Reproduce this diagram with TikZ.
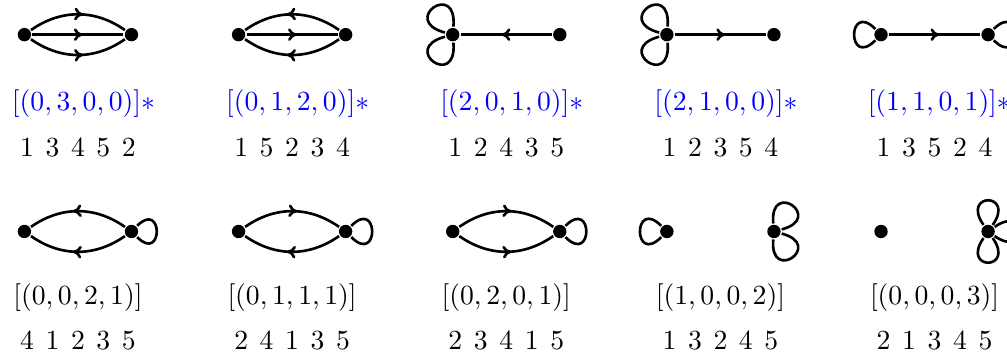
\documentclass[tikz,border=0pt]{standalone}
\usepackage{amsmath}
\usetikzlibrary{arrows.meta,decorations.markings}

\begin{document}
\begin{tikzpicture}[line width=0.95pt,
  vtx/.style={circle,fill=black,inner sep=0pt,minimum size=1.7mm},
  midarrow/.style={postaction={decorate},decoration={markings,mark=at position 0.55 with {\arrow{To[length=1.1mm,width=1.6mm]}}}},
  lbl/.style={inner sep=1pt},
  perm/.style={inner sep=1pt,font={\spaceskip=4.2pt\relax}}]
\useasboundingbox (0,0) rectangle (12.79,4.52);
% first row
\node[vtx] (a11) at (0.31,4.08) {};
\node[vtx] (b11) at (1.67,4.08) {};
\draw[midarrow] (a11) to[bend left=35] (b11);
\draw[midarrow] (a11) -- (b11);
\draw[midarrow] (a11) to[bend right=35] (b11);
\node[vtx] (a12) at (3.03,4.08) {};
\node[vtx] (b12) at (4.39,4.08) {};
\draw[midarrow] (b12) to[bend right=35] (a12);
\draw[midarrow] (a12) -- (b12);
\draw[midarrow] (b12) to[bend left=35] (a12);
\node[vtx] (a13) at (5.75,4.08) {};
\node[vtx] (b13) at (7.11,4.08) {};
\draw (a13) to[out=165,in=85,distance=6mm] (a13);
\draw (a13) to[out=275,in=195,distance=6mm] (a13);
\draw[midarrow] (b13) -- (a13);
\node[vtx] (a14) at (8.47,4.08) {};
\node[vtx] (b14) at (9.83,4.08) {};
\draw (a14) to[out=165,in=85,distance=6mm] (a14);
\draw (a14) to[out=275,in=195,distance=6mm] (a14);
\draw[midarrow] (a14) -- (b14);
\node[vtx] (a15) at (11.19,4.08) {};
\node[vtx] (b15) at (12.55,4.08) {};
\draw (a15) to[out=225,in=135,distance=5.1mm] (a15);
\draw (b15) to[out=45,in=-45,distance=5.1mm] (b15);
\draw[midarrow] (a15) -- (b15);
\node[lbl,text=blue] (s11) at (1.06,3.21) {$[(0,3,0,0)]*$};
\node[lbl,text=blue] (s12) at (3.78,3.21) {$[(0,1,2,0)]*$};
\node[lbl,text=blue] (s13) at (6.50,3.21) {$[(2,0,1,0)]*$};
\node[lbl,text=blue] (s14) at (9.22,3.21) {$[(2,1,0,0)]*$};
\node[lbl,text=blue] (s15) at (11.93,3.21) {$[(1,1,0,1)]*$};
\node[perm] (p11) at (0.99,2.65) {1 3 4 5 2};
\node[perm] (p12) at (3.71,2.65) {1 5 2 3 4};
\node[perm] (p13) at (6.43,2.65) {1 2 4 3 5};
\node[perm] (p14) at (9.15,2.65) {1 2 3 5 4};
\node[perm] (p15) at (11.87,2.65) {1 3 5 2 4};
% second row
\node[vtx] (a21) at (0.31,1.58) {};
\node[vtx] (b21) at (1.67,1.58) {};
\draw[midarrow] (b21) to[bend right=35] (a21);
\draw[midarrow] (b21) to[bend left=35] (a21);
\draw (b21) to[out=45,in=-45,distance=4.7mm] (b21);
\node[vtx] (a22) at (3.03,1.58) {};
\node[vtx] (b22) at (4.39,1.58) {};
\draw[midarrow] (a22) to[bend left=35] (b22);
\draw[midarrow] (b22) to[bend left=35] (a22);
\draw (b22) to[out=45,in=-45,distance=5mm] (b22);
\node[vtx] (a23) at (5.75,1.58) {};
\node[vtx] (b23) at (7.11,1.58) {};
\draw[midarrow] (a23) to[bend left=35] (b23);
\draw[midarrow] (a23) to[bend right=35] (b23);
\draw (b23) to[out=45,in=-45,distance=5mm] (b23);
\node[vtx] (a24) at (8.47,1.58) {};
\node[vtx] (b24) at (9.83,1.58) {};
\draw (a24) to[out=225,in=135,distance=5.1mm] (a24);
\draw (b24) to[out=95,in=15,distance=5.7mm] (b24);
\draw (b24) to[out=-15,in=-95,distance=5.7mm] (b24);
\node[vtx] (a25) at (11.19,1.58) {};
\node[vtx] (b25) at (12.55,1.58) {};
\draw (b25) to[out=125,in=55,distance=5.1mm] (b25);
\draw (b25) to[out=35,in=-35,distance=5.1mm] (b25);
\draw (b25) to[out=-55,in=-125,distance=5.1mm] (b25);
\node[lbl] (s21) at (0.99,0.74) {$[(0,0,2,1)]$};
\node[lbl] (s22) at (3.71,0.74) {$[(0,1,1,1)]$};
\node[lbl] (s23) at (6.43,0.74) {$[(0,2,0,1)]$};
\node[lbl] (s24) at (9.15,0.74) {$[(1,0,0,2)]$};
\node[lbl] (s25) at (11.87,0.74) {$[(0,0,0,3)]$};
\node[perm] (p21) at (0.99,0.20) {4 1 2 3 5};
\node[perm] (p22) at (3.71,0.20) {2 4 1 3 5};
\node[perm] (p23) at (6.43,0.20) {2 3 4 1 5};
\node[perm] (p24) at (9.15,0.20) {1 3 2 4 5};
\node[perm] (p25) at (11.87,0.20) {2 1 3 4 5};
\end{tikzpicture}
\end{document}
